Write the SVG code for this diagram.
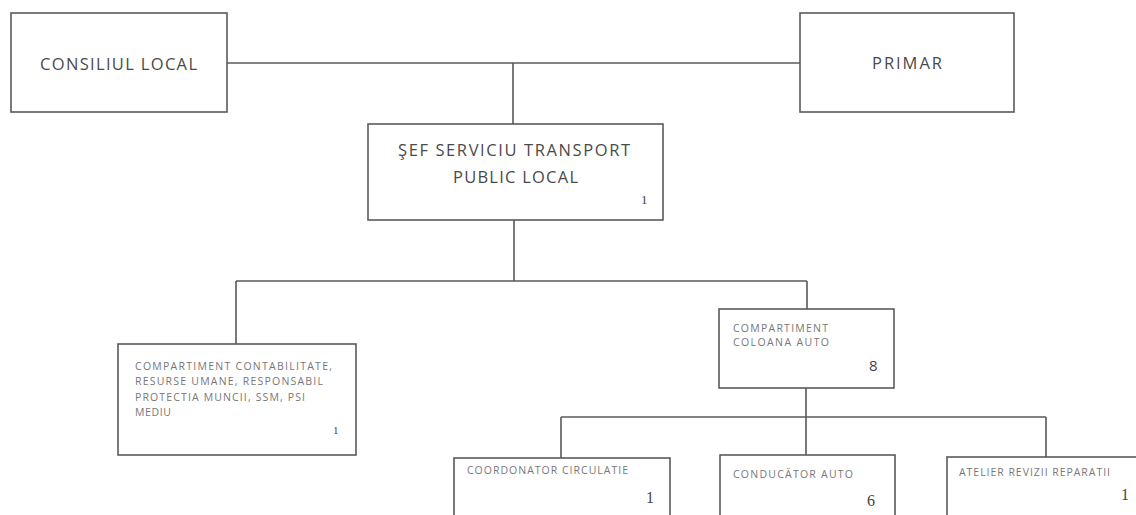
<svg xmlns="http://www.w3.org/2000/svg" width="1136" height="515" viewBox="0 0 1136 515">
<style>
.box{fill:#fff;stroke:#5a5a5a;stroke-width:1.6}
.con{fill:none;stroke:#5a5a5a;stroke-width:1.6}
.t{font-family:"Open Sans","Liberation Sans",sans-serif;fill:#4a4a4a}
.big{font-size:16.5px}
.sm{font-size:10.5px;fill:#777}
.num{font-family:"Liberation Serif",serif;fill:#444}
.numb{font-family:"Open Sans","Liberation Sans",sans-serif;font-size:15px;fill:#444}
</style>
<rect width="1136" height="515" fill="#fff"/>
<g id="connectors">
<path class="con" d="M227 63H800"/>
<path class="con" d="M513 63V124"/>
<path class="con" d="M514 220V281M236 281H807M236 281V344M807 281V309"/>
<path class="con" d="M806 388V417M561 417H1046M561 417V458M806 417V455M1046 417V457"/>
</g>
<g id="consiliul">
<rect class="box" x="11" y="13" width="216" height="99"/>
<text class="t big" x="118.5" y="70" text-anchor="middle" textLength="157">CONSILIUL LOCAL</text>
</g>
<g id="primar">
<rect class="box" x="800" y="13" width="214" height="99"/>
<text class="t big" x="907" y="69" text-anchor="middle" textLength="70">PRIMAR</text>
</g>
<g id="sef">
<rect class="box" x="368" y="124" width="295" height="96"/>
<text class="t big" x="514" y="156" text-anchor="middle" textLength="232">ŞEF SERVICIU TRANSPORT</text>
<text class="t big" x="515.5" y="183" text-anchor="middle" textLength="125">PUBLIC LOCAL</text>
<text class="num" x="641" y="204" style="font-size:13px">1</text>
</g>
<g id="contabilitate">
<rect class="box" x="118" y="344" width="238" height="111"/>
<text class="t sm" x="135" y="370" textLength="197">COMPARTIMENT CONTABILITATE,</text>
<text class="t sm" x="135" y="385" textLength="188">RESURSE UMANE,  RESPONSABIL</text>
<text class="t sm" x="135" y="401" textLength="170">PROTECTIA MUNCII, SSM, PSI</text>
<text class="t sm" x="135" y="416" textLength="36">MEDIU</text>
<text class="num" x="333" y="434" style="font-size:11px">1</text>
</g>
<g id="coloana">
<rect class="box" x="719" y="309" width="175" height="79"/>
<text class="t sm" x="733" y="332" textLength="95">COMPARTIMENT</text>
<text class="t sm" x="733" y="346" textLength="96">COLOANA AUTO</text>
<text class="numb" x="869" y="371">8</text>
</g>
<g id="coordonator">
<rect class="box" x="454" y="458" width="216" height="60"/>
<text class="t sm" x="467" y="474" textLength="161">COORDONATOR CIRCULATIE</text>
<text class="num" x="646" y="503" style="font-size:16px">1</text>
</g>
<g id="conducator">
<rect class="box" x="720" y="455" width="175" height="63"/>
<text class="t sm" x="733" y="478" textLength="120">CONDUCĂTOR AUTO</text>
<text class="num" x="867" y="506" style="font-size:16px">6</text>
</g>
<g id="atelier">
<rect class="box" x="947" y="457" width="200" height="61"/>
<text class="t sm" x="959" y="476" textLength="151">ATELIER REVIZII REPARATII</text>
<text class="num" x="1121" y="500" style="font-size:16px">1</text>
</g>
</svg>
